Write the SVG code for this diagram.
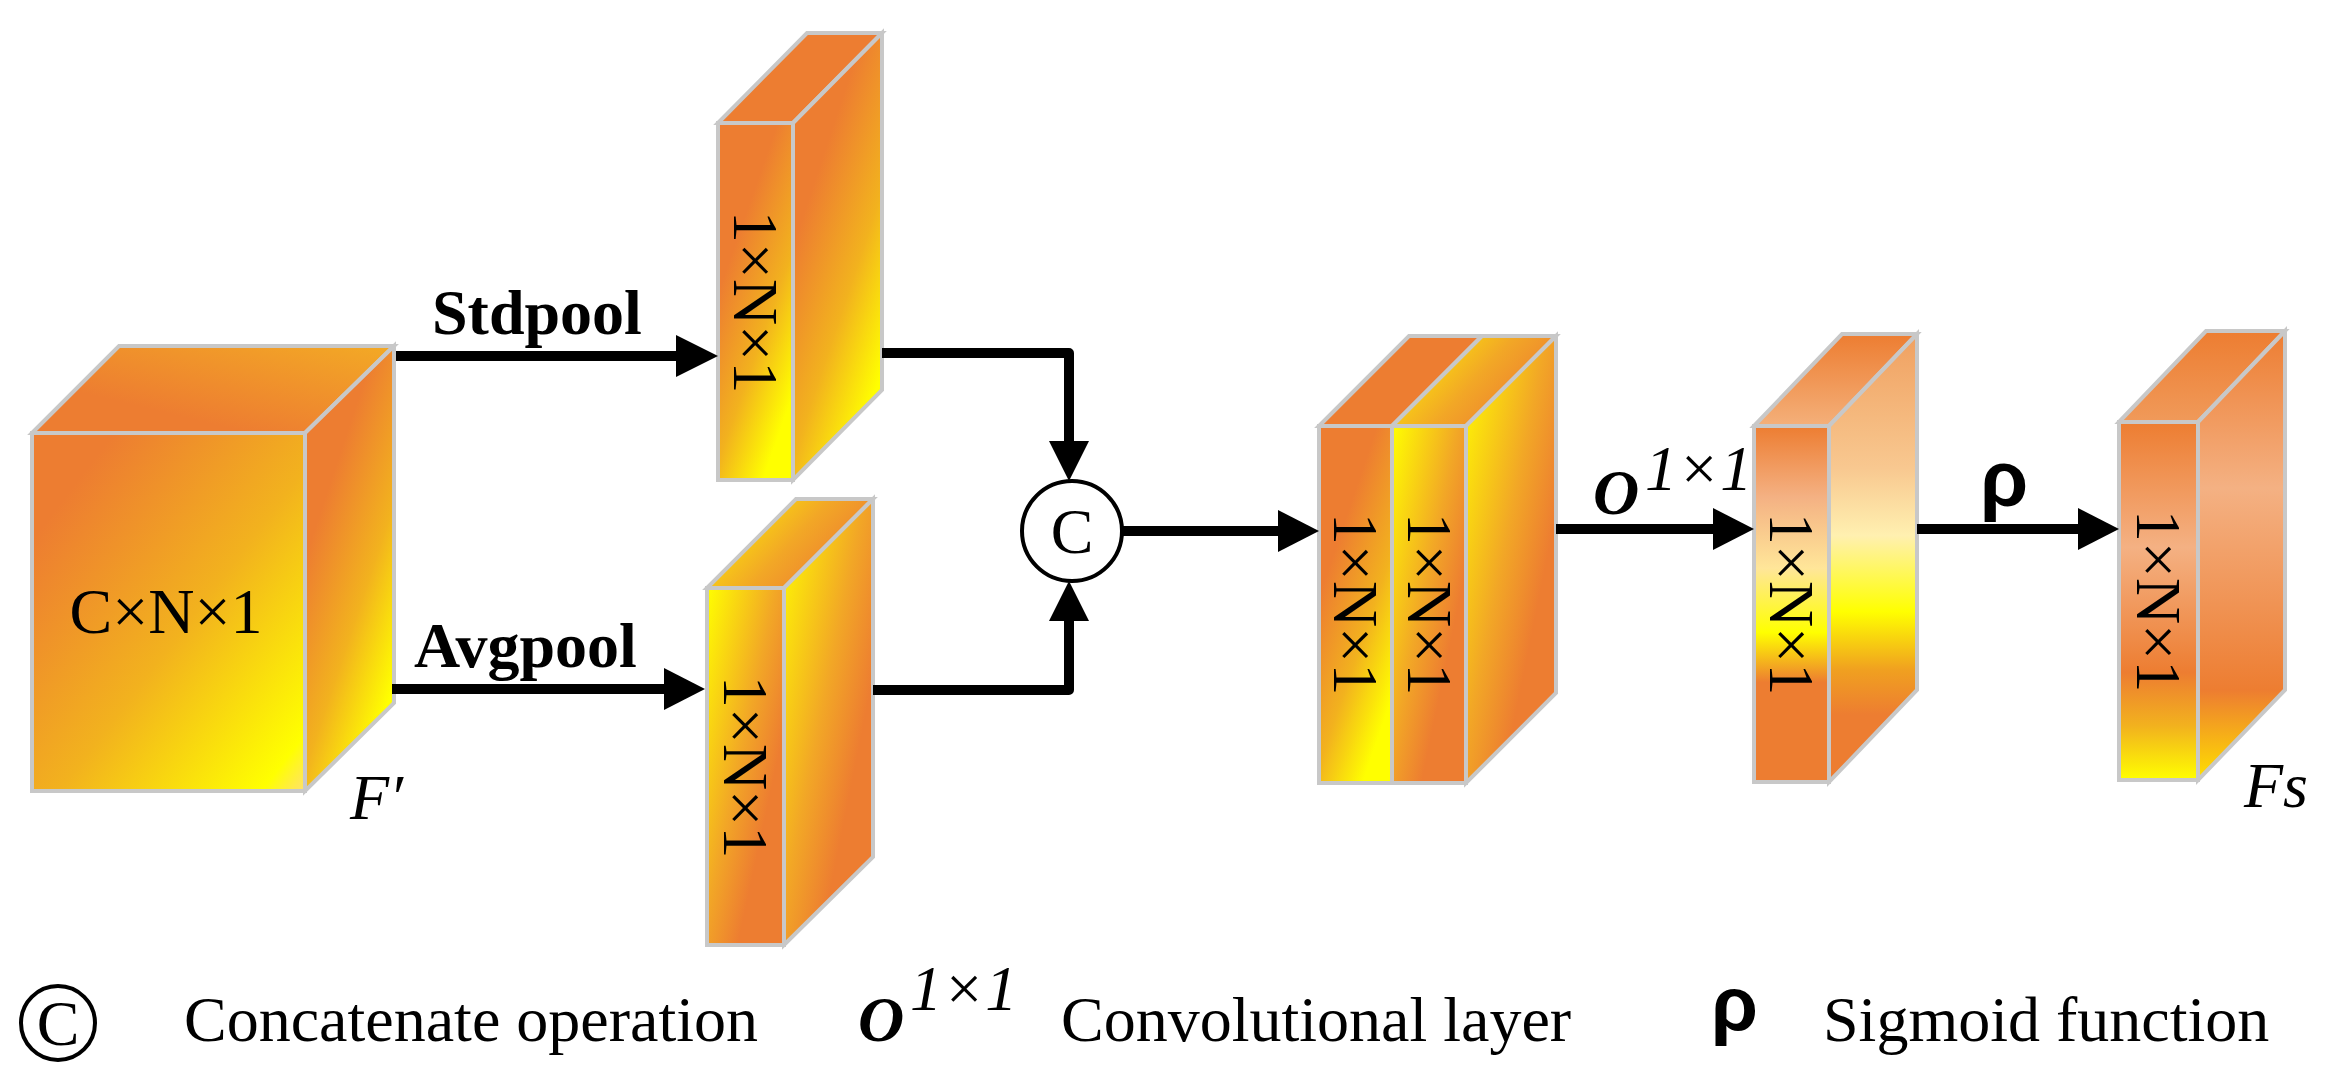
<svg xmlns="http://www.w3.org/2000/svg" width="2343" height="1086" viewBox="0 0 2343 1086">
<style>
.f{stroke:#C8C8C8;stroke-width:4;stroke-linejoin:miter}
.t{font-family:"Liberation Serif","Times New Roman",serif;font-size:64px;fill:#000}
.b{font-weight:bold}
.i{font-style:italic}
.c{stroke:#000;stroke-width:10;fill:none;stroke-linejoin:round}
.h{fill:#000}
</style>
<defs>
<linearGradient id="dOY" x1="0" y1="0" x2="1" y2="1"><stop offset="0.15" stop-color="#ED7D31"/><stop offset="0.55" stop-color="#F2B21E"/><stop offset="0.92" stop-color="#FFFF00"/><stop offset="1" stop-color="#FFE070"/></linearGradient>
<linearGradient id="dOY2" x1="0" y1="0" x2="0.6" y2="1"><stop offset="0.35" stop-color="#ED7D31"/><stop offset="0.7" stop-color="#F2B21E"/><stop offset="1" stop-color="#FFFF00"/></linearGradient>
<linearGradient id="dTop" x1="0" y1="1" x2="1" y2="0"><stop offset="0.3" stop-color="#ED7D31"/><stop offset="1" stop-color="#F3AA25"/></linearGradient>
<linearGradient id="dYO" x1="0" y1="0" x2="1" y2="1"><stop offset="0" stop-color="#FFFF00"/><stop offset="0.45" stop-color="#F2A726"/><stop offset="0.7" stop-color="#ED7D31"/></linearGradient>
<linearGradient id="dYO2" x1="0" y1="0" x2="1" y2="0.5"><stop offset="0" stop-color="#FFFF00"/><stop offset="0.6" stop-color="#F2A726"/><stop offset="1" stop-color="#ED7D31"/></linearGradient>
<linearGradient id="g3" x1="0" y1="0" x2="0" y2="1"><stop offset="0" stop-color="#ED7D31"/><stop offset="0.2" stop-color="#F4B183"/><stop offset="0.4" stop-color="#FFE699"/><stop offset="0.58" stop-color="#FFFF00"/><stop offset="0.72" stop-color="#ED7D31"/><stop offset="1" stop-color="#ED7D31"/></linearGradient>
<linearGradient id="g3s" x1="0" y1="0" x2="0" y2="1"><stop offset="0" stop-color="#F0A060"/><stop offset="0.3" stop-color="#F8C890"/><stop offset="0.45" stop-color="#FFF0B0"/><stop offset="0.62" stop-color="#FFFF00"/><stop offset="0.75" stop-color="#F0A020"/><stop offset="0.85" stop-color="#ED7D31"/><stop offset="1" stop-color="#ED7D31"/></linearGradient>
<linearGradient id="g4" x1="0" y1="0" x2="0" y2="1"><stop offset="0" stop-color="#ED7D31"/><stop offset="0.35" stop-color="#F4B183"/><stop offset="0.7" stop-color="#ED7D31"/><stop offset="0.85" stop-color="#F2B21E"/><stop offset="1" stop-color="#FFFF00"/></linearGradient>
<linearGradient id="g4s" x1="0" y1="0" x2="0" y2="1"><stop offset="0" stop-color="#ED7D31"/><stop offset="0.35" stop-color="#F4B183"/><stop offset="0.8" stop-color="#ED7D31"/><stop offset="1" stop-color="#FFE000"/></linearGradient>
<linearGradient id="g4t" x1="0" y1="0" x2="0" y2="1"><stop offset="0" stop-color="#ED7D31"/><stop offset="1" stop-color="#F09A5A"/></linearGradient>
<linearGradient id="g3t" x1="0" y1="0" x2="0" y2="1"><stop offset="0" stop-color="#ED7D31"/><stop offset="1" stop-color="#F4B07A"/></linearGradient>
</defs>

<g id="cube">
<polygon class="f" fill="url(#dTop)" points="32,433 119,346 394,346 305,433"/>
<polygon class="f" fill="url(#dOY2)" points="305,433 394,346 394,703 305,791"/>
<rect class="f" fill="url(#dOY)" x="32" y="433" width="273" height="358"/>
<text class="t" x="166" y="633" text-anchor="middle">C×N×1</text>
<text class="t i" x="350" y="819">F′</text>
</g>

<g id="stdslab">
<polygon class="f" fill="#ED7D31" points="718,123 807,33 882,33 793,123"/>
<polygon class="f" fill="url(#dOY2)" points="793,123 882,33 882,390 793,480"/>
<rect class="f" fill="url(#dOY2)" x="718" y="123" width="75" height="357"/>
<text class="t" transform="translate(755,302) rotate(90)" text-anchor="middle" dominant-baseline="central">1×N×1</text>
</g>

<g id="avgslab">
<polygon class="f" fill="url(#dYO2)" points="707,588 796,499 873,499 784,588"/>
<polygon class="f" fill="url(#dYO)" points="784,588 873,499 873,857 784,945"/>
<rect class="f" fill="url(#dYO)" x="707" y="588" width="77" height="357"/>
<text class="t" transform="translate(745,767) rotate(90)" text-anchor="middle" dominant-baseline="central">1×N×1</text>
</g>

<g id="concat">
<circle cx="1072" cy="531" r="50" fill="#fff" stroke="#000" stroke-width="4"/>
<text class="t" x="1072" y="531" font-size="84" text-anchor="middle" dominant-baseline="central">C</text>
</g>

<g id="stack">
<polygon class="f" fill="#ED7D31" points="1319,426 1409,336 1482,336 1392,426"/>
<polygon class="f" fill="url(#dYO2)" points="1392,426 1482,336 1556,336 1466,426"/>
<polygon class="f" fill="url(#dYO)" points="1466,426 1556,336 1556,693 1466,783"/>
<rect class="f" fill="url(#dOY2)" x="1319" y="426" width="73" height="357"/>
<rect class="f" fill="url(#dYO)" x="1392" y="426" width="74" height="357"/>
<text class="t" transform="translate(1355,604) rotate(90)" text-anchor="middle" dominant-baseline="central">1×N×1</text>
<text class="t" transform="translate(1429,604) rotate(90)" text-anchor="middle" dominant-baseline="central">1×N×1</text>
</g>

<g id="convslab">
<polygon class="f" fill="url(#g3t)" points="1754,426 1842,334 1917,334 1829,426"/>
<polygon class="f" fill="url(#g3s)" points="1829,426 1917,334 1917,690 1829,782"/>
<rect class="f" fill="url(#g3)" x="1754" y="426" width="75" height="356"/>
<text class="t" transform="translate(1791,604) rotate(90)" text-anchor="middle" dominant-baseline="central">1×N×1</text>
</g>

<g id="outslab">
<polygon class="f" fill="url(#g4t)" points="2119,422 2206,331 2285,331 2198,422"/>
<polygon class="f" fill="url(#g4s)" points="2198,422 2285,331 2285,690 2198,780"/>
<rect class="f" fill="url(#g4)" x="2119" y="422" width="79" height="358"/>
<text class="t" transform="translate(2158,601) rotate(90)" text-anchor="middle" dominant-baseline="central">1×N×1</text>
<text class="t i" x="2244" y="807">Fs</text>
</g>

<g id="connectors">
<path class="c" d="M396,356 H680"/><polygon class="h" points="676,335 718,356 676,377"/>
<path class="c" d="M392,689 H668"/><polygon class="h" points="664,668 705,689 664,710"/>
<path class="c" d="M882,353 H1069 V445"/><polygon class="h" points="1049,441 1069,481 1089,441"/>
<path class="c" d="M873,690 H1069 V617"/><polygon class="h" points="1049,621 1069,581 1089,621"/>
<path class="c" d="M1122,531 H1282"/><polygon class="h" points="1278,510 1319,531 1278,552"/>
<path class="c" d="M1556,529 H1717"/><polygon class="h" points="1713,508 1754,529 1713,550"/>
<path class="c" d="M1917,529 H2082"/><polygon class="h" points="2078,508 2119,529 2078,550"/>
<text class="t b" x="432" y="334">Stdpool</text>
<text class="t b" x="414" y="667">Avgpool</text>
<text class="t b i" x="1593" y="514" font-size="70">O</text>
<text class="t i" x="1645" y="490" font-size="40">1×1</text>
<text x="1980" y="506" font-family="Liberation Sans,Arial,sans-serif" font-weight="bold" font-size="78">ρ</text>
</g>

<g id="legend">
<circle cx="58" cy="1023" r="37" fill="none" stroke="#000" stroke-width="4"/>
<text class="t" x="58" y="1023" font-size="62" text-anchor="middle" dominant-baseline="central">C</text>
<text class="t" x="184" y="1041" font-size="66">Concatenate operation</text>
<text class="t b i" x="858" y="1041" font-size="70">O</text>
<text class="t i" x="910" y="1010" font-size="38">1×1</text>
<text class="t" x="1061" y="1041" font-size="66">Convolutional layer</text>
<text x="1711" y="1030" font-family="Liberation Sans,Arial,sans-serif" font-weight="bold" font-size="76">ρ</text>
<text class="t" x="1823" y="1041" font-size="66">Sigmoid function</text>
</g>
</svg>
